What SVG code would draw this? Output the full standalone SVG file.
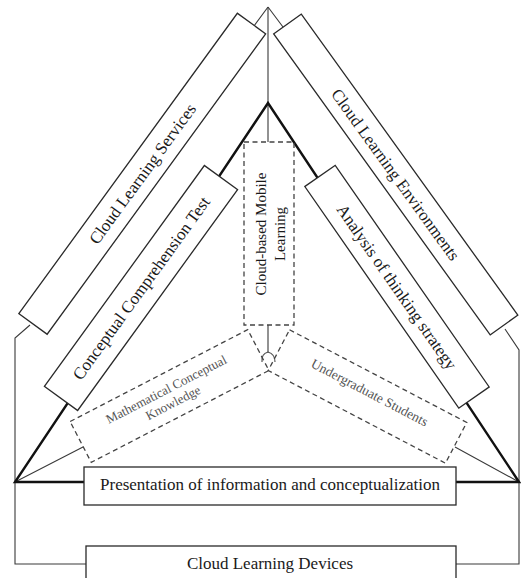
<svg xmlns="http://www.w3.org/2000/svg" width="521" height="578" viewBox="0 0 521 578">
<style>
.box{fill:#fff;stroke:#2a2a2a;stroke-width:1.3}
.dash{fill:none;stroke:#444;stroke-width:1.3;stroke-dasharray:5,3.5}
.thin{fill:none;stroke:#3a3a3a;stroke-width:1.1}
.thick{fill:none;stroke:#111;stroke-width:2.4}
.t{font-family:"Liberation Serif","Times New Roman",serif;font-size:17px;fill:#1a1a1a;text-anchor:middle}
.g{font-family:"Liberation Serif","Times New Roman",serif;font-size:13px;fill:#555;text-anchor:middle}
</style>
<rect width="521" height="578" fill="#fff"/>
<g id="connectors">
<path class="thin" d="M268,7 L254,26 M30,325 L15,338 L15,564 L86,564"/>
<path class="thin" d="M268,7 L283,27 M505,329 L519,350 L519,564 L456,564"/>
<path class="thin" d="M268,7 L268,142 M268,325 L268,353"/>
<path class="thin" d="M15,482 L83,447 M519,482 L455,447"/>
<path class="thick" d="M268,103 L15,482 L519,482 Z"/>
<path fill="none" stroke="#555" stroke-width="1.2" d="M262,362 Q261,354 268,352 Q275,354 275,362"/>
</g>
<g id="cloud-learning-services" transform="translate(142.25,173.75) rotate(-53.97)">
<rect class="box" x="-185.75" y="-17.5" width="371.5" height="35"/>
<text class="t" x="0" y="6">Cloud Learning Services</text>
</g>
<g id="cloud-learning-environments" transform="translate(395.75,174.5) rotate(54.27)">
<rect class="box" x="-185.4" y="-17" width="370.8" height="34"/>
<text class="t" x="0" y="6">Cloud Learning Environments</text>
</g>
<g id="conceptual-comprehension-test" transform="translate(141,288) rotate(-54.1)">
<rect class="box" x="-136.4" y="-20.5" width="272.8" height="41"/>
<text class="t" x="0" y="6">Conceptual Comprehension Test</text>
</g>
<g id="analysis-of-thinking-strategy" transform="translate(397,286.75) rotate(55.2)">
<rect class="box" x="-134.9" y="-18.5" width="269.8" height="37"/>
<text class="t" x="0" y="6">Analysis of thinking strategy</text>
</g>
<g id="cloud-based-mobile-learning">
<rect class="dash" x="244" y="142" width="50" height="183"/>
<text class="t" style="font-size:15px" transform="translate(266,234) rotate(-90)">Cloud-based Mobile</text>
<text class="t" style="font-size:15px" transform="translate(285,234) rotate(-90)">Learning</text>
</g>
<g id="mathematical-conceptual-knowledge" transform="translate(169.5,396) rotate(-27.35)">
<rect class="dash" x="-100" y="-23" width="200" height="46"/>
<text class="g" x="0" y="-3">Mathematical Conceptual</text>
<text class="g" x="0" y="12">Knowledge</text>
</g>
<g id="undergraduate-students" transform="translate(367.5,396.5) rotate(27.6)">
<rect class="dash" x="-100" y="-23" width="200" height="46"/>
<text class="g" style="font-size:13.5px" x="0" y="0">Undergraduate Students</text>
</g>
<g id="presentation">
<rect class="box" x="84" y="467" width="372" height="38"/>
<text class="t" x="270" y="490">Presentation of information and conceptualization</text>
</g>
<g id="cloud-learning-devices">
<rect class="box" x="86" y="546" width="370" height="40"/>
<text class="t" x="270" y="569">Cloud Learning Devices</text>
</g>
</svg>
